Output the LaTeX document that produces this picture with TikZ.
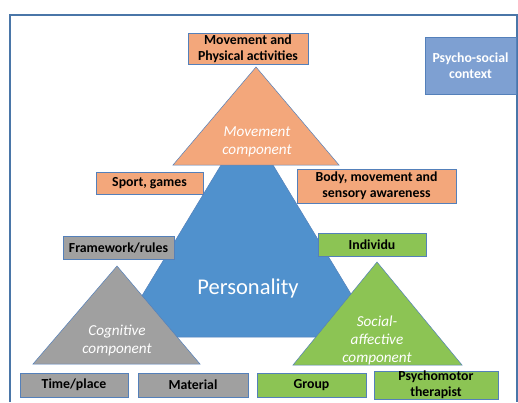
\documentclass[tikz,border=0pt]{standalone}
\usepackage{fontspec}
\setmainfont{Carlito}
\definecolor{framecol}{RGB}{74,118,168}
\definecolor{edgecol}{RGB}{84,128,186}
\definecolor{movecol}{RGB}{243,167,123}
\definecolor{perscol}{RGB}{80,145,205}
\definecolor{cogcol}{RGB}{160,160,160}
\definecolor{soccol}{RGB}{140,196,84}
\definecolor{psycol}{RGB}{126,160,210}
\begin{document}
\begin{tikzpicture}[x=1pt,y=-1pt,
		box/.style={draw=edgecol,line width=0.7pt,inner sep=0pt,align=center,
			font=\fontsize{13.8}{16}\selectfont\bfseries},
		tri/.style={draw=edgecol,line width=0.5pt},
		trilabel/.style={text=white,align=center,font=\fontsize{15.2}{18}\selectfont\itshape}]
		\useasboundingbox (0,0) rectangle (518,402);
		% outer frame
		\draw[framecol,line width=1.6pt] (10,402) -- (10,15) -- (517,15) -- (517,402);

		% Personality
		\fill[tri,fill=perscol] (247,122) -- (377,337) -- (117,337) -- cycle;
		\node[text=white,font=\fontsize{22.5}{24}\selectfont] (pers) at (248,288) {Personality};

		% Movement component
		\fill[tri,fill=movecol] (256,67) -- (339,165) -- (173,165) -- cycle;
		\node[trilabel] (movelab) at (257,142) {Movement\\component};

		% Cognitive component
		\fill[tri,fill=cogcol] (117,266) -- (200,364) -- (33,364) -- cycle;
		\node[trilabel] (coglab) at (117,340.5) {Cognitive\\component};

		% Social-affective component
		\fill[tri,fill=soccol] (377,262) -- (462,365) -- (293,365) -- cycle;
		\node[trilabel] (soclab) at (377,340) {Social-\\affective\\component};

		% boxes
		\node[box,fill=movecol,minimum width=120,minimum height=31] (act) at (248,48.5) {Movement and\\Physical activities};
		\node[box,fill=psycol,text=white,minimum width=91,minimum height=57] (psy) at (470.5,65.5) {Psycho-social\\context};
		\node[box,fill=movecol,minimum width=107,minimum height=22] (sport) at (149.5,183) {Sport, games};
		\node[box,fill=movecol,minimum width=159,minimum height=34] (body) at (376.5,186) {Body, movement and\\sensory awareness};
		\node[box,fill=cogcol,minimum width=111,minimum height=23] (rules) at (118.5,247.5) {Framework/rules};
		\node[box,fill=soccol,minimum width=108,minimum height=23] (indiv) at (372,244.5) {Individu};
		\node[box,fill=cogcol,minimum width=108,minimum height=24] (time) at (74,385) {Time/place};
		\node[box,fill=cogcol,minimum width=110,minimum height=24] (mat) at (193,385) {Material};
		\node[box,fill=soccol,minimum width=109,minimum height=24] (group) at (311.5,385) {Group};
		\node[box,fill=soccol,minimum width=124,minimum height=28] (ther) at (436,385) {Psychomotor\\therapist};
	\end{tikzpicture}
\end{document}
